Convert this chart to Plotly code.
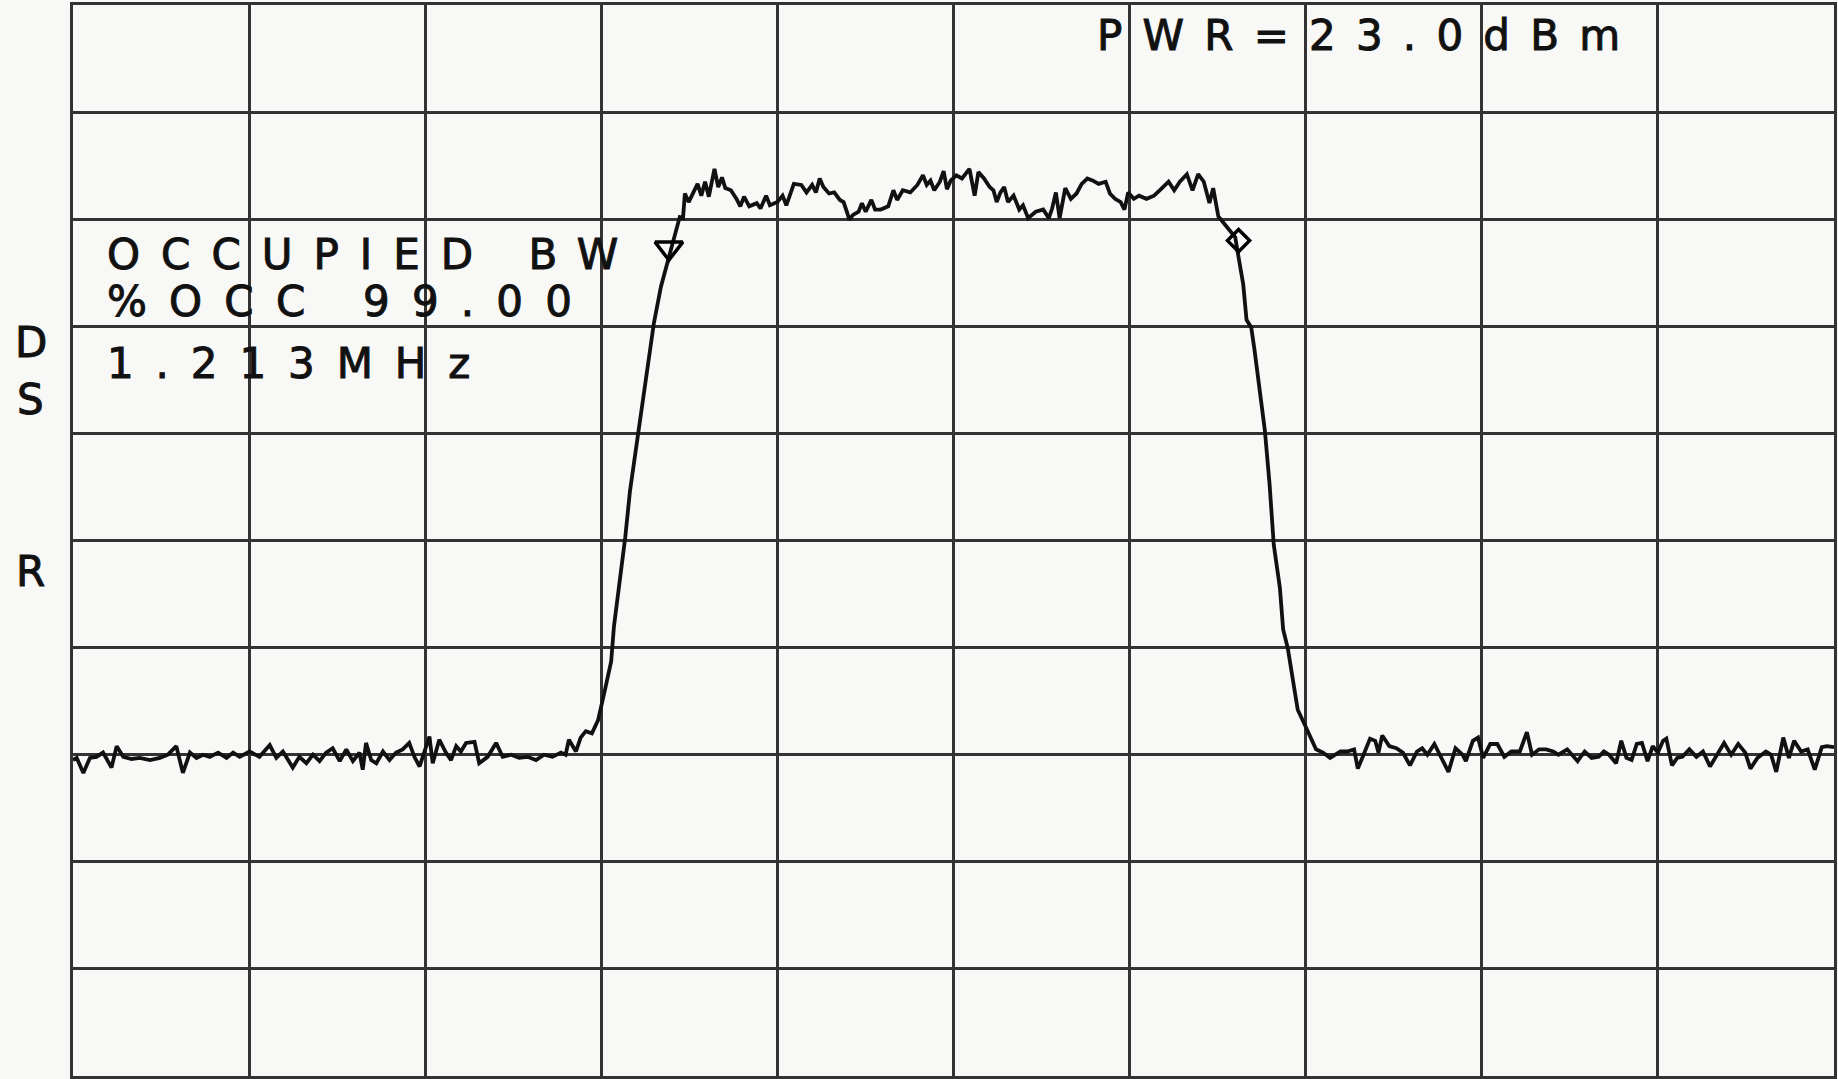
import plotly.graph_objects as go

# Frequency offset from centre (kHz) and trace level (dBm)
freq_khz = [
    -1875, -1867, -1853, -1839, -1825, -1811, -1793, -1782, -1768, -1750,
    -1733, -1711, -1690, -1673, -1655, -1641, -1626, -1612, -1598, -1584,
    -1566, -1548, -1534, -1520, -1499, -1478, -1456, -1442, -1428, -1407,
    -1393, -1378, -1364, -1350, -1336, -1322, -1307, -1293, -1279, -1265,
    -1258, -1251, -1240, -1229, -1215, -1201, -1187, -1173, -1159, -1148,
    -1137, -1127, -1116, -1109, -1095, -1081, -1070, -1059, -1049, -1038,
    -1020, -1010, -992, -974, -960, -942, -925, -907, -889, -872,
    -854, -836, -826, -819, -804, -794, -783, -770, -757,
    -744, -729, -723, -710, -699, -689, -676, -665, -651, -638,
    -623, -604, -591, -583, -576, -572,
    -564, -553, -545, -537, -529, -521, -513, -509, -501, -493,
    -486, -474, -462, -454, -446, -435, -419, -411, -399, -391,
    -375, -364, -356, -340, -324, -313, -301, -293, -285, -277,
    -265, -254, -242, -234, -226, -222, -214, -202, -195, -187,
    -175, -167, -155, -139, -128, -120, -108, -92, -77, -65,
    -57, -49, -41, -29, -21, -14, -6, 6, 18, 34,
    45, 53, 65, 77, 85, 92, 100, 108, 116, 128,
    140, 148, 159, 175, 191, 203, 210, 218, 226, 238,
    250, 262, 273, 285, 297, 309, 324, 333, 344, 356,
    364, 372, 384, 395, 411, 427, 439, 458, 470, 482,
    497, 509, 521, 533, 545, 553, 564, 584, 600,
    606, 617, 624, 634, 641, 652, 663, 673, 682, 695,
    702, 712, 723, 733, 748, 762, 772,
    787, 802, 824, 838, 853, 861, 876, 887, 898, 905,
    913, 928, 943, 957, 972, 987, 998, 1009, 1024, 1039,
    1054, 1069, 1084, 1091, 1106, 1117, 1128, 1143, 1158, 1173,
    1188, 1206, 1221, 1232, 1247, 1262, 1277, 1288, 1307, 1329,
    1344, 1359, 1374, 1385, 1396, 1411, 1422, 1433, 1444, 1455,
    1466, 1478, 1489, 1500, 1511, 1518, 1530, 1541, 1552, 1567,
    1582, 1596, 1611, 1626, 1641, 1656, 1671, 1686, 1697, 1712,
    1730, 1741, 1752, 1767, 1779, 1790, 1805, 1819, 1834, 1849,
    1860, 1875,
]
level_dbm = [
    -50.5, -50.3, -51.7, -50.3, -50.2, -49.8, -51.2, -49.2, -50.2, -50.4,
    -50.3, -50.5, -50.3, -50.0, -49.2, -51.7, -49.8, -50.3, -50.0, -50.2,
    -49.8, -50.3, -49.8, -50.2, -49.7, -50.2, -49.1, -50.3, -49.7, -51.2,
    -50.2, -50.8, -50.0, -50.6, -49.8, -49.4, -50.6, -49.5, -50.6, -49.8,
    -51.4, -48.9, -50.5, -50.8, -49.7, -50.5, -49.8, -49.5, -48.9, -50.2,
    -51.1, -49.7, -48.3, -50.8, -48.6, -49.8, -50.5, -49.2, -49.7, -48.9,
    -48.8, -50.8, -50.2, -48.9, -50.2, -50.0, -50.3, -50.2, -50.5, -50.0,
    -50.2, -49.8, -50.0, -48.6, -49.7, -48.4, -47.8, -48.0, -46.8,
    -44.3, -41.3, -38.0, -33.7, -29.7, -25.4, -21.4, -17.7, -13.1, -9.7,
    -6.3, -3.3, -1.2, 0.2, 0.1, 2.4,
    1.6, 2.7, 3.3, 2.2, 3.5, 2.1, 3.6, 4.7, 3.0, 3.9,
    2.9, 2.7, 1.9, 1.2, 2.1, 1.2, 1.5, 1.0, 2.2, 1.3,
    1.6, 2.2, 1.3, 3.3, 3.2, 2.5, 3.2, 2.5, 3.8, 3.0,
    2.4, 2.5, 1.8, 1.6, 0.55, -0.05, 0.4, 0.7, 1.5, 0.7,
    1.8, 0.9, 0.9, 1.2, 2.7, 1.8, 2.7, 2.5, 3.2, 4.1,
    3.2, 3.6, 2.7, 3.5, 4.5, 2.8, 3.6, 4.1, 3.8, 4.7,
    2.2, 4.4, 3.8, 3.0, 2.7, 1.6, 2.5, 3.0, 1.6, 2.2,
    0.9, 1.3, 0.1, 0.7, 0.9, 0.1, 1.0, 2.5, 0.1, 2.9,
    1.9, 2.4, 3.3, 3.8, 3.6, 3.3, 3.5, 2.4, 1.9, 1.6,
    0.9, 2.5, 1.9, 2.2, 1.9, 2.2, 2.7, 3.5, 2.7, 3.5,
    4.2, 2.7, 4.2, 3.5, 1.5, 2.9, 0.25, -0.8, -1.7,
    -3.3, -6.1, -9.4, -10.1, -12.2, -16.1, -19.7, -24.7, -30.4, -34.4,
    -38.3, -40.1, -43.3, -45.8, -47.2, -48.6, -49.5,
    -49.8, -50.3, -49.7, -49.7, -49.5, -51.3, -49.7, -48.5, -48.7, -49.8,
    -48.2, -49.2, -49.4, -49.8, -51.0, -49.7, -49.4, -50.0, -49.0, -50.3,
    -51.6, -49.4, -50.0, -50.6, -48.7, -48.4, -50.3, -49.0, -49.0, -50.2,
    -49.7, -49.7, -47.9, -50.0, -49.5, -49.5, -49.7, -50.0, -49.5, -50.6,
    -49.7, -50.3, -50.2, -49.7, -50.0, -50.8, -48.7, -50.3, -50.5, -49.0,
    -48.9, -50.6, -49.2, -49.8, -48.7, -48.5, -51.0, -50.3, -50.2, -49.5,
    -50.2, -49.7, -51.1, -50.0, -48.9, -50.0, -49.0, -49.8, -51.3, -50.3,
    -49.7, -50.0, -51.6, -48.4, -50.3, -48.7, -49.7, -49.5, -51.4, -49.3,
    -49.2, -49.3,
]

# Occupied-bandwidth markers (left: triangle, right: diamond)
marker_freq_khz = [-606, 607]
marker_level_dbm = [-2.7, -2.0]
marker_symbols = ["triangle-down-open", "diamond-open"]

# Annotation texts
power_text = "PWR=23.0dBm"
obw_lines = ["OCCUPIED BW", "%OCC 99.00", "1.213MHz"]
side_letters = ["D", "S", "R"]

# Axis settings (span 3.75 MHz, 10 dB/div, ref 20 dBm)
x_range = [-1875, 1875]
x_div = 375
y_range = [-80, 20]
y_div = 10

INK = "#111111"
GRID = "#333333"
PAPER = "#f8f8f7"

fig = go.Figure()
fig.add_trace(go.Scatter(
    x=freq_khz, y=level_dbm, mode="lines",
    line=dict(color=INK, width=3.8), hoverinfo="skip", showlegend=False,
))
fig.add_trace(go.Scatter(
    x=marker_freq_khz, y=marker_level_dbm, mode="markers",
    marker=dict(symbol=marker_symbols, size=[24, 17], color="#000000",
                line=dict(color="#000000", width=3.5), opacity=1),
    hoverinfo="skip", showlegend=False,
))

FONT = dict(family="DejaVu Sans", size=42, color=INK)


def spaced(t, ls):
    return ('<span style="letter-spacing:%.1fpx;stroke:%s;stroke-width:1px">%s</span>'
            % (ls, INK, t))


annotations = [
    dict(text=spaced(power_text, 20.2), x=0.5811, y=0.9715, xanchor="left", yanchor="middle"),
    dict(text=spaced(obw_lines[0], 21.0), x=0.0187, y=0.7666, xanchor="left", yanchor="middle"),
    dict(text=spaced(obw_lines[1], 22.2), x=0.0187, y=0.7236, xanchor="left", yanchor="middle"),
    dict(text=spaced(obw_lines[2], 21.9), x=0.0187, y=0.6653, xanchor="left", yanchor="middle"),
    dict(text=spaced(side_letters[0], 0), x=-0.0241, y=0.6849, xanchor="center", yanchor="middle"),
    dict(text=spaced(side_letters[1], 0), x=-0.0241, y=0.6312, xanchor="center", yanchor="middle"),
    dict(text=spaced(side_letters[2], 0), x=-0.0241, y=0.4711, xanchor="center", yanchor="middle"),
]
for a in annotations:
    a.update(xref="paper", yref="paper", showarrow=False, font=FONT, borderpad=0)

axis_style = dict(showticklabels=False, ticks="", showgrid=True, gridcolor=GRID,
                  gridwidth=2.6, zeroline=False, showline=True, mirror=True,
                  linecolor=GRID, linewidth=2.8, fixedrange=True, tick0=0)

fig.update_layout(
    width=1838, height=1079,
    margin=dict(l=73, r=1, t=5, b=3),
    paper_bgcolor=PAPER, plot_bgcolor=PAPER,
    annotations=annotations,
    xaxis=dict(range=x_range, dtick=x_div, **axis_style),
    yaxis=dict(range=y_range, dtick=y_div, **axis_style),
)

fig.write_html(
    "out.html",
    config={"displayModeBar": False},
    post_script="document.body.style.margin='0px';document.body.style.overflow='hidden';"
                "document.documentElement.style.overflow='hidden';",
)
